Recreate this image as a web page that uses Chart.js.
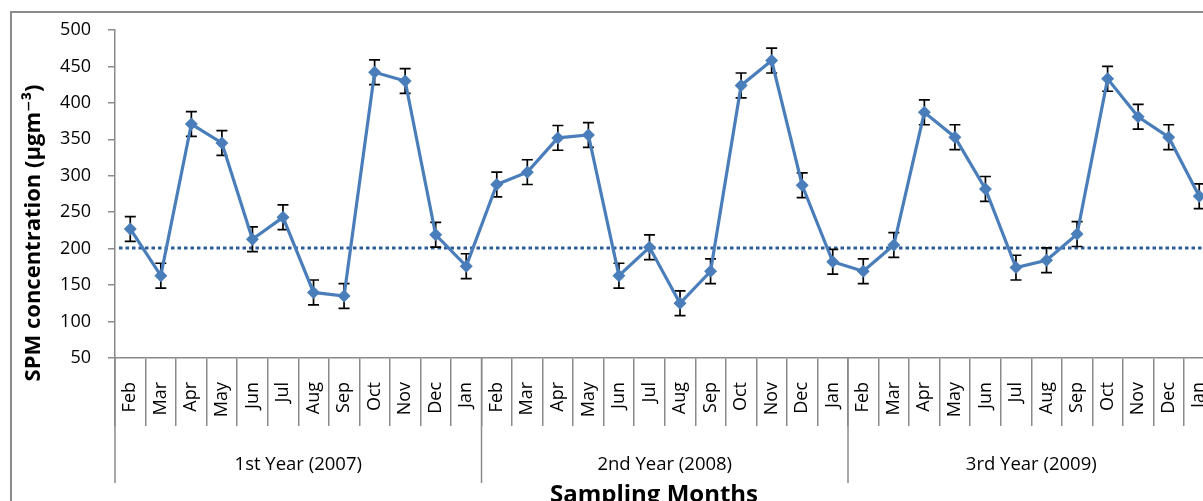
<!DOCTYPE html>
<html>
<head>
<meta charset="utf-8">
<script src="https://cdn.jsdelivr.net/npm/chart.js@4.4.1/dist/chart.umd.min.js"></script>
<style>
    html, body { margin: 0; padding: 0; background: #fff; overflow: hidden; width: 1203px; height: 501px; }
    #wrap { position: absolute; left: 0; top: 0; width: 1230px; height: 520px; }
    #frame { position: absolute; left: 10px; top: 11px; width: 1300px; height: 600px;
             border-left: 2px solid #8a8a8a; border-top: 2px solid #8a8a8a; pointer-events: none; }
</style>
</head>
<body>
<div id="wrap"><canvas id="spmChart" width="1230" height="520"></canvas></div>
<div id="frame"></div>
<script>
// ----------------------------------------------------
// Data
// ----------------------------------------------------
const months = ['Feb', 'Mar', 'Apr', 'May', 'Jun', 'Jul', 'Aug', 'Sep', 'Oct', 'Nov', 'Dec', 'Jan'];
const yearLabels = ['1st Year (2007)', '2nd Year (2008)', '3rd Year (2009)'];

const spm2007 = [227, 163, 371, 345, 213, 243, 140, 135, 442, 430, 219, 176];
const spm2008 = [288, 305, 352, 356, 163, 202, 125, 169, 424, 458, 287, 182];
const spm2009 = [169, 205, 387, 353, 282, 174, 184, 220, 433, 381, 353, 272];

const err2007 = [17, 17, 17, 17, 17, 17, 17, 17, 17, 17, 17, 17];
const err2008 = [17, 17, 17, 17, 17, 17, 17, 17, 17, 17, 17, 17];
const err2009 = [17, 17, 17, 17, 17, 17, 17, 17, 17, 17, 17, 17];

const limitValue = 201;   // dotted reference line
const yMin = 50, yMax = 500, yStep = 50;

const categories = [...months, ...months, ...months];
const spmValues = [...spm2007, ...spm2008, ...spm2009];
const spmErrors = [...err2007, ...err2008, ...err2009];

const FONT = "'Open Sans', 'DejaVu Sans', sans-serif";
const AXIS_GRAY = '#8a8a8a';

// ----------------------------------------------------
// Extras: limit line, error bars, year groups, axis titles
// ----------------------------------------------------
const extrasPlugin = {
    id: 'extras',
    beforeDatasetsDraw(chart) {
        const {ctx, chartArea, scales: {x, y}} = chart;

        // dotted limit line
        const ly = y.getPixelForValue(limitValue);
        ctx.save();
        ctx.strokeStyle = '#2F5C99';
        ctx.lineWidth = 3;
        ctx.setLineDash([3.5, 3]);
        ctx.beginPath();
        ctx.moveTo(chartArea.left + 4, ly);
        ctx.lineTo(chartArea.right, ly);
        ctx.stroke();
        ctx.restore();

        // error bars
        ctx.save();
        ctx.strokeStyle = '#000';
        ctx.lineWidth = 1.7;
        spmValues.forEach((v, i) => {
            const px = x.getPixelForValue(i);
            const top = y.getPixelForValue(v + spmErrors[i]);
            const bot = y.getPixelForValue(v - spmErrors[i]);
            ctx.beginPath();
            ctx.moveTo(px, top); ctx.lineTo(px, bot);
            ctx.moveTo(px - 5.5, top); ctx.lineTo(px + 5.5, top);
            ctx.moveTo(px - 5.5, bot); ctx.lineTo(px + 5.5, bot);
            ctx.stroke();
        });
        ctx.restore();
    },
    afterDraw(chart) {
        const {ctx, chartArea, scales: {x}} = chart;
        ctx.save();

        // long separators between years + year labels
        ctx.strokeStyle = AXIS_GRAY;
        ctx.lineWidth = 1.5;
        for (let g = 0; g <= yearLabels.length; g++) {
            const px = x.getPixelForValue(g * months.length - 0.5);
            ctx.beginPath();
            ctx.moveTo(px, chartArea.bottom);
            ctx.lineTo(px, 483);
            ctx.stroke();
        }
        ctx.fillStyle = '#000';
        ctx.font = '18.5px ' + FONT;
        ctx.textAlign = 'center';
        ctx.textBaseline = 'middle';
        yearLabels.forEach((label, g) => {
            const a = x.getPixelForValue(g * months.length - 0.5);
            const b = x.getPixelForValue((g + 1) * months.length - 0.5);
            ctx.fillText(label, (a + b) / 2, 465);
        });

        // axis titles
        ctx.font = 'bold 24px ' + FONT;
        ctx.fillText('Sampling Months', 654, 495);

        ctx.translate(34, 233);
        ctx.rotate(-Math.PI / 2);
        ctx.font = 'bold 22px ' + FONT;
        ctx.fillText('SPM concentration (µgm⁻³)', 0, 0);
        ctx.restore();
    }
};

new Chart(document.getElementById('spmChart'), {
    type: 'line',
    data: {
        labels: categories,
        datasets: [{
            label: 'SPM',
            data: spmValues,
            borderColor: '#4A7EBB',
            backgroundColor: '#4A7EBB',
            borderWidth: 3.2,
            pointStyle: 'rectRot',
            pointRadius: 6.5,
            pointBorderWidth: 0,
            tension: 0
        }]
    },
    options: {
        responsive: false,
        animation: false,
        events: [],
        layout: { padding: { top: 30, right: 15.5, left: 0, bottom: 0 } },
        plugins: {
            legend: { display: false },
            tooltip: { enabled: false }
        },
        scales: {
            x: {
                offset: true,
                border: { color: AXIS_GRAY, width: 1.5 },
                grid: {
                    offset: true,
                    drawOnChartArea: false,
                    tickLength: 68,
                    color: AXIS_GRAY,
                    lineWidth: 1.5
                },
                ticks: {
                    autoSkip: false,
                    minRotation: 90,
                    maxRotation: 90,
                    padding: -44,
                    color: '#000',
                    font: { family: FONT, size: 18 }
                },
                afterFit: (scale) => { scale.height = 162; }
            },
            y: {
                min: yMin,
                max: yMax,
                border: { color: AXIS_GRAY, width: 1.5 },
                grid: {
                    drawOnChartArea: false,
                    tickLength: 7,
                    color: AXIS_GRAY,
                    lineWidth: 1.5
                },
                ticks: {
                    stepSize: yStep,
                    padding: 17,
                    color: '#000',
                    font: { family: FONT, size: 18 }
                },
                afterFit: (scale) => { scale.width = 115; }
            }
        }
    },
    plugins: [extrasPlugin]
});
</script>
</body>
</html>
